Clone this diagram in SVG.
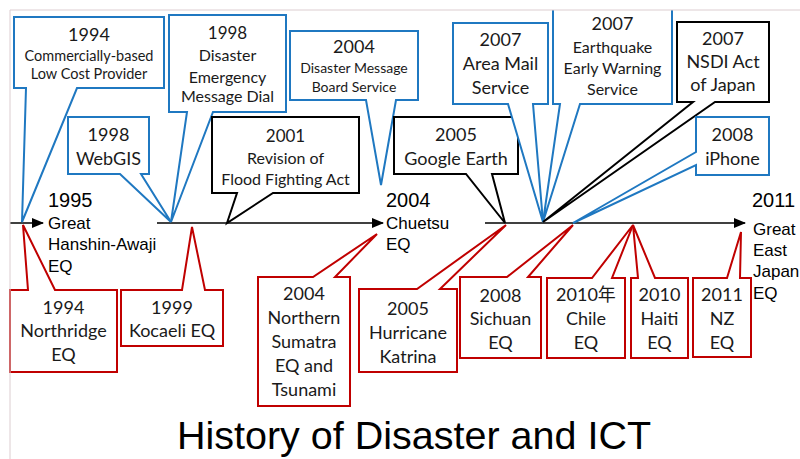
<svg xmlns="http://www.w3.org/2000/svg" width="800" height="459" viewBox="0 0 800 459">
<defs>
<marker id="ah" markerUnits="userSpaceOnUse" markerWidth="12" markerHeight="10" refX="11" refY="5" orient="auto">
<path d="M0,0 L12,5 L0,10 Z" fill="#000"/>
</marker>
<style>
.b{fill:#fff;stroke:#1f78c1;stroke-width:2;stroke-linejoin:miter}
.k{fill:#fff;stroke:#000;stroke-width:2;stroke-linejoin:miter}
.r{fill:#fff;stroke:#c00000;stroke-width:2;stroke-linejoin:miter}
.t{font-family:Lato,"Noto Sans CJK JP",sans-serif;fill:#1a1a1a;text-anchor:middle}
.a{font-family:"Liberation Sans",Arial,sans-serif;fill:#000}
.tl{stroke:#000;stroke-width:1.5;fill:none}
</style>
</defs>
<rect width="800" height="459" fill="#fff"/>

<g id="timeline">
<line class="tl" x1="10" y1="223" x2="43" y2="223" marker-end="url(#ah)"/>
<line class="tl" x1="157" y1="223" x2="383" y2="223" marker-end="url(#ah)"/>
<line class="tl" x1="485" y1="223" x2="745" y2="223" marker-end="url(#ah)"/>
</g>

<g id="connectors">
</g>

<g id="c1994cost">
<path class="b" d="M14,17 H164 V88 H77 L22,222 L26,88 H14 Z"/>
<text class="t" x="89" y="41" font-size="18">1994</text>
<text class="t" x="89" y="61" font-size="14.5">Commercially-based</text>
<text class="t" x="89" y="79" font-size="14.5">Low Cost Provider</text>
</g>
<g id="c1998dial">
<path class="b" d="M169,15 H286 V112 H213 L171,222 L187,112 H169 Z"/>
<text class="t" x="227.5" y="39" font-size="17">1998</text>
<text class="t" x="227.5" y="61" font-size="16">Disaster</text>
<text class="t" x="227.5" y="83" font-size="16">Emergency</text>
<text class="t" x="227.5" y="102" font-size="16">Message Dial</text>
</g>
<g id="c1998webgis">
<path class="b" d="M68,117 H149 V174 H141 L171,222 L120,174 H68 Z"/>
<text class="t" x="108.5" y="141" font-size="18">1998</text>
<text class="t" x="108.5" y="165" font-size="18">WebGIS</text>
</g>
<g id="c2001flood">
<path class="k" d="M212,117 H359 V193 H273 L227,223 L237,193 H212 Z"/>
<text class="t" x="285.5" y="142" font-size="17">2001</text>
<text class="t" x="285.5" y="163.5" font-size="16">Revision of</text>
<text class="t" x="285.5" y="184.5" font-size="16">Flood Fighting Act</text>
</g>
<g id="c2004board">
<path class="b" d="M290,31 H418 V100 H396 L381,185 L366,100 H290 Z"/>
<text class="t" x="354" y="53" font-size="18">2004</text>
<text class="t" x="354" y="73" font-size="14">Disaster Message</text>
<text class="t" x="354" y="92" font-size="14">Board Service</text>
</g>
<g id="c2005google">
<path class="k" d="M394,117 H518 V174 H492 L505,223 L466,174 H394 Z"/>
<text class="t" x="456" y="141" font-size="18">2005</text>
<text class="t" x="456" y="165" font-size="18">Google Earth</text>
</g>
<g id="c2007mail">
<path class="b" d="M453,23 H548 V104 H533 L543,222 L508,104 H453 Z"/>
<text class="t" x="500.5" y="46" font-size="18">2007</text>
<text class="t" x="500.5" y="70" font-size="18">Area Mail</text>
<text class="t" x="500.5" y="94" font-size="18">Service</text>
</g>
<g id="c2007eew">
<path class="b" d="M553,10 V104 H560 L543,222 L580,104 H672 V10"/>
<text class="t" x="612.5" y="30" font-size="18">2007</text>
<text class="t" x="612.5" y="53" font-size="16">Earthquake</text>
<text class="t" x="612.5" y="74" font-size="16">Early Warning</text>
<text class="t" x="612.5" y="95" font-size="16">Service</text>
</g>
<g id="c2007nsdi">
<path class="k" d="M677,22 H769 V102 H715 L543,222 L693,102 H677 Z"/>
<text class="t" x="723" y="45" font-size="18">2007</text>
<text class="t" x="723" y="68" font-size="18">NSDI Act</text>
<text class="t" x="723" y="91" font-size="18">of Japan</text>
</g>
<g id="c2008iphone">
<path class="b" d="M696,117 H769 V175 H696 V165 L573,223 L696,152 Z"/>
<text class="t" x="732.5" y="141" font-size="18">2008</text>
<text class="t" x="732.5" y="165" font-size="18">iPhone</text>
</g>

<g id="c1994northridge">
<path class="r" d="M10,290 H28 L23,225 L55,290 H117 V372 H10 Z"/>
<text class="t" x="63.5" y="314" font-size="18">1994</text>
<text class="t" x="63.5" y="337" font-size="18">Northridge</text>
<text class="t" x="63.5" y="361" font-size="18">EQ</text>
</g>
<g id="c1999kocaeli">
<path class="r" d="M121,290 H182 L192,227 L205,290 H223 V346 H121 Z"/>
<text class="t" x="172" y="314" font-size="18">1999</text>
<text class="t" x="172" y="337" font-size="18">Kocaeli EQ</text>
</g>
<g id="c2004sumatra">
<path class="r" d="M258,277 H313 L377,234 L335,277 H350 V406 H258 Z"/>
<text class="t" x="304" y="300" font-size="18">2004</text>
<text class="t" x="304" y="324" font-size="18">Northern</text>
<text class="t" x="304" y="348" font-size="18">Sumatra</text>
<text class="t" x="304" y="372" font-size="18">EQ and</text>
<text class="t" x="304" y="396" font-size="18">Tsunami</text>
</g>
<g id="c2005katrina">
<path class="r" d="M359,289 H417 L506,225 L440,289 H457 V372 H359 Z"/>
<text class="t" x="408" y="315" font-size="18">2005</text>
<text class="t" x="408" y="339" font-size="18">Hurricane</text>
<text class="t" x="408" y="363" font-size="18">Katrina</text>
</g>
<g id="c2008sichuan">
<path class="r" d="M460,277 H507 L573,225 L528,277 H541 V358 H460 Z"/>
<text class="t" x="500.5" y="302" font-size="18">2008</text>
<text class="t" x="500.5" y="325" font-size="18">Sichuan</text>
<text class="t" x="500.5" y="349" font-size="18">EQ</text>
</g>
<g id="c2010chile">
<path class="r" d="M547,278 H592 L633,225 L612,278 H625 V358 H547 Z"/>
<text class="t" x="586" y="301" font-size="18">2010年</text>
<text class="t" x="586" y="325" font-size="18">Chile</text>
<text class="t" x="586" y="349" font-size="18">EQ</text>
</g>
<g id="c2010haiti">
<path class="r" d="M631,278 H638 L633,225 L655,278 H688 V358 H631 Z"/>
<text class="t" x="659.5" y="301" font-size="18">2010</text>
<text class="t" x="659.5" y="325" font-size="18">Haiti</text>
<text class="t" x="659.5" y="349" font-size="18">EQ</text>
</g>
<g id="c2011nz">
<path class="r" d="M693,278 H727 L741,232 L740,278 H751 V357 H693 Z"/>
<text class="t" x="722" y="301" font-size="18">2011</text>
<text class="t" x="722" y="325" font-size="18">NZ</text>
<text class="t" x="722" y="349" font-size="18">EQ</text>
</g>

<g id="lbl1995">
<text class="a" x="48" y="207" font-size="20">1995</text>
<text class="a" x="48" y="229" font-size="17">Great</text>
<text class="a" x="48" y="250" font-size="17">Hanshin-Awaji</text>
<text class="a" x="48" y="272" font-size="17">EQ</text>
</g>
<g id="lbl2004">
<text class="a" x="386" y="207" font-size="20">2004</text>
<text class="a" x="386" y="229" font-size="17">Chuetsu</text>
<text class="a" x="386" y="250" font-size="17">EQ</text>
</g>
<g id="lbl2011">
<text class="a" x="752" y="207" font-size="20">2011</text>
<text class="a" x="753" y="235" font-size="17">Great</text>
<text class="a" x="753" y="256" font-size="17">East</text>
<text class="a" x="753" y="277" font-size="17">Japan</text>
<text class="a" x="753" y="299" font-size="17">EQ</text>
</g>

<g id="frame">
<line x1="10" y1="10" x2="800" y2="10" stroke="#dccdd0" stroke-width="1"/>
<line x1="10" y1="10" x2="10" y2="459" stroke="#dccdd0" stroke-width="1"/>
</g>

<g id="title">
<text class="a" x="414" y="449" font-size="39.5" text-anchor="middle">History of Disaster and ICT</text>
</g>
</svg>
